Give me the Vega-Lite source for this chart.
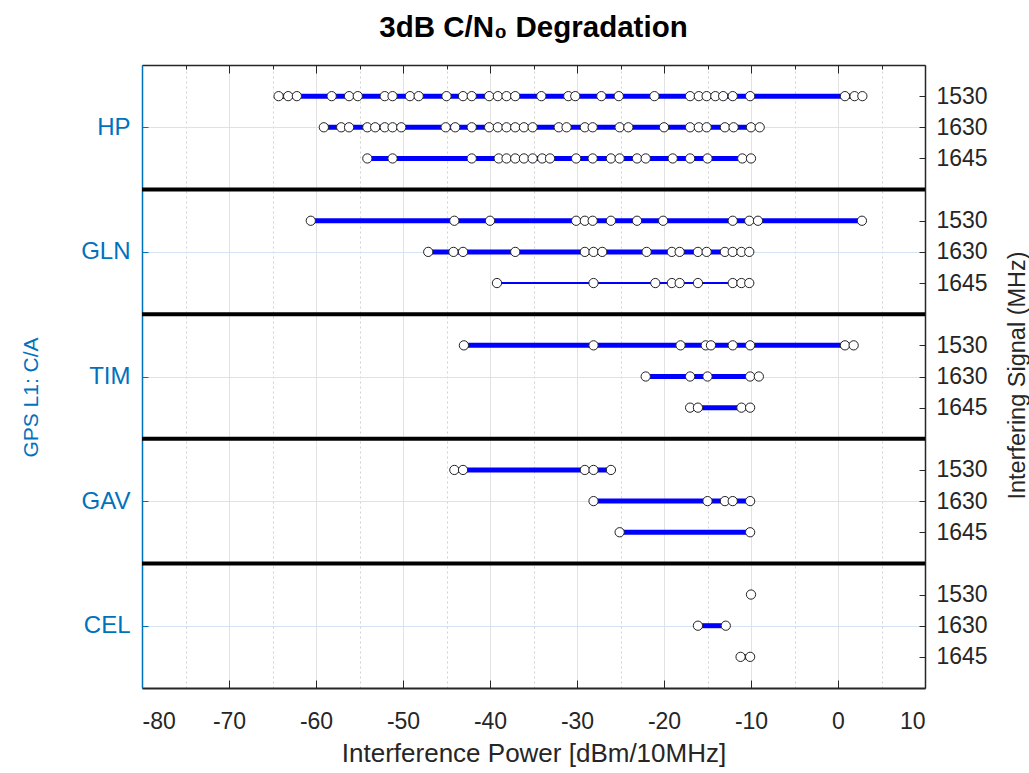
{
  "$schema": "https://vega.github.io/schema/vega-lite/v6.json",
  "width": 783,
  "height": 623,
  "autosize": "none",
  "padding": {"left": 142, "top": 65, "right": 104, "bottom": 85},
  "background": "white",
  "title": {"text": "3dB C/N₀ Degradation", "fontSize": 29.5, "fontWeight": "bold", "font": "Liberation Sans", "color": "#000000", "anchor": "middle", "offset": 21},
  "config": {
    "view": {"stroke": null},
    "font": "Liberation Sans",
    "axis": {"labelFont": "Liberation Sans", "titleFont": "Liberation Sans", "labelFontSize": 23, "titleFontSize": 21, "titleFontWeight": "normal", "labelColor": "#262626", "titleColor": "#262626", "domainColor": "#262626", "tickColor": "#262626", "domainWidth": 1.5}
  },
  "datasets": {
    "pts": [
      {"signal": "HP-1530", "power": -64.3}, {"signal": "HP-1530", "power": -63.2}, {"signal": "HP-1530", "power": -62.2}, {"signal": "HP-1530", "power": -58.2}, {"signal": "HP-1530", "power": -56.2}, {"signal": "HP-1530", "power": -55.2}, {"signal": "HP-1530", "power": -52.1}, {"signal": "HP-1530", "power": -51.2}, {"signal": "HP-1530", "power": -49.2}, {"signal": "HP-1530", "power": -48.2}, {"signal": "HP-1530", "power": -45.0}, {"signal": "HP-1530", "power": -43.1}, {"signal": "HP-1530", "power": -42.1}, {"signal": "HP-1530", "power": -40.1}, {"signal": "HP-1530", "power": -39.1}, {"signal": "HP-1530", "power": -38.1}, {"signal": "HP-1530", "power": -37.1}, {"signal": "HP-1530", "power": -34.1}, {"signal": "HP-1530", "power": -31.0}, {"signal": "HP-1530", "power": -30.2}, {"signal": "HP-1530", "power": -27.2}, {"signal": "HP-1530", "power": -25.2}, {"signal": "HP-1530", "power": -21.1}, {"signal": "HP-1530", "power": -17.0}, {"signal": "HP-1530", "power": -16.0}, {"signal": "HP-1530", "power": -15.1}, {"signal": "HP-1530", "power": -14.1}, {"signal": "HP-1530", "power": -13.2}, {"signal": "HP-1530", "power": -12.1}, {"signal": "HP-1530", "power": -10.1}, {"signal": "HP-1530", "power": 0.8}, {"signal": "HP-1530", "power": 1.9}, {"signal": "HP-1530", "power": 2.8},
      {"signal": "HP-1630", "power": -59.1}, {"signal": "HP-1630", "power": -57.1}, {"signal": "HP-1630", "power": -56.2}, {"signal": "HP-1630", "power": -54.1}, {"signal": "HP-1630", "power": -53.2}, {"signal": "HP-1630", "power": -52.1}, {"signal": "HP-1630", "power": -51.2}, {"signal": "HP-1630", "power": -50.2}, {"signal": "HP-1630", "power": -45.1}, {"signal": "HP-1630", "power": -44.0}, {"signal": "HP-1630", "power": -42.1}, {"signal": "HP-1630", "power": -40.1}, {"signal": "HP-1630", "power": -39.1}, {"signal": "HP-1630", "power": -38.1}, {"signal": "HP-1630", "power": -37.1}, {"signal": "HP-1630", "power": -36.1}, {"signal": "HP-1630", "power": -35.1}, {"signal": "HP-1630", "power": -32.1}, {"signal": "HP-1630", "power": -31.2}, {"signal": "HP-1630", "power": -29.1}, {"signal": "HP-1630", "power": -28.2}, {"signal": "HP-1630", "power": -25.1}, {"signal": "HP-1630", "power": -24.1}, {"signal": "HP-1630", "power": -20.0}, {"signal": "HP-1630", "power": -17.0}, {"signal": "HP-1630", "power": -16.0}, {"signal": "HP-1630", "power": -15.1}, {"signal": "HP-1630", "power": -13.0}, {"signal": "HP-1630", "power": -12.0}, {"signal": "HP-1630", "power": -10.0}, {"signal": "HP-1630", "power": -9.0},
      {"signal": "HP-1645", "power": -54.1}, {"signal": "HP-1645", "power": -51.2}, {"signal": "HP-1645", "power": -42.1}, {"signal": "HP-1645", "power": -39.0}, {"signal": "HP-1645", "power": -38.1}, {"signal": "HP-1645", "power": -37.1}, {"signal": "HP-1645", "power": -36.1}, {"signal": "HP-1645", "power": -35.1}, {"signal": "HP-1645", "power": -34.0}, {"signal": "HP-1645", "power": -33.1}, {"signal": "HP-1645", "power": -30.1}, {"signal": "HP-1645", "power": -28.2}, {"signal": "HP-1645", "power": -26.1}, {"signal": "HP-1645", "power": -25.1}, {"signal": "HP-1645", "power": -23.1}, {"signal": "HP-1645", "power": -22.1}, {"signal": "HP-1645", "power": -19.0}, {"signal": "HP-1645", "power": -17.0}, {"signal": "HP-1645", "power": -15.0}, {"signal": "HP-1645", "power": -11.0}, {"signal": "HP-1645", "power": -10.0},
      {"signal": "GLN-1530", "power": -60.6}, {"signal": "GLN-1530", "power": -44.1}, {"signal": "GLN-1530", "power": -40.0}, {"signal": "GLN-1530", "power": -30.1}, {"signal": "GLN-1530", "power": -29.1}, {"signal": "GLN-1530", "power": -28.2}, {"signal": "GLN-1530", "power": -26.1}, {"signal": "GLN-1530", "power": -23.1}, {"signal": "GLN-1530", "power": -20.1}, {"signal": "GLN-1530", "power": -12.1}, {"signal": "GLN-1530", "power": -10.2}, {"signal": "GLN-1530", "power": -9.2}, {"signal": "GLN-1530", "power": 2.75},
      {"signal": "GLN-1630", "power": -47.1}, {"signal": "GLN-1630", "power": -44.2}, {"signal": "GLN-1630", "power": -43.1}, {"signal": "GLN-1630", "power": -37.1}, {"signal": "GLN-1630", "power": -29.1}, {"signal": "GLN-1630", "power": -28.1}, {"signal": "GLN-1630", "power": -27.1}, {"signal": "GLN-1630", "power": -22.0}, {"signal": "GLN-1630", "power": -19.1}, {"signal": "GLN-1630", "power": -18.2}, {"signal": "GLN-1630", "power": -16.1}, {"signal": "GLN-1630", "power": -15.1}, {"signal": "GLN-1630", "power": -13.0}, {"signal": "GLN-1630", "power": -12.1}, {"signal": "GLN-1630", "power": -11.1}, {"signal": "GLN-1630", "power": -10.2},
      {"signal": "GLN-1645", "power": -39.2}, {"signal": "GLN-1645", "power": -28.1}, {"signal": "GLN-1645", "power": -21.0}, {"signal": "GLN-1645", "power": -19.1}, {"signal": "GLN-1645", "power": -18.2}, {"signal": "GLN-1645", "power": -16.1}, {"signal": "GLN-1645", "power": -12.1}, {"signal": "GLN-1645", "power": -11.1}, {"signal": "GLN-1645", "power": -10.2},
      {"signal": "TIM-1530", "power": -43.0}, {"signal": "TIM-1530", "power": -28.1}, {"signal": "TIM-1530", "power": -18.1}, {"signal": "TIM-1530", "power": -15.2}, {"signal": "TIM-1530", "power": -14.6}, {"signal": "TIM-1530", "power": -12.1}, {"signal": "TIM-1530", "power": -10.1}, {"signal": "TIM-1530", "power": 0.8}, {"signal": "TIM-1530", "power": 1.8},
      {"signal": "TIM-1630", "power": -22.1}, {"signal": "TIM-1630", "power": -17.0}, {"signal": "TIM-1630", "power": -15.0}, {"signal": "TIM-1630", "power": -10.1}, {"signal": "TIM-1630", "power": -9.1},
      {"signal": "TIM-1645", "power": -17.0}, {"signal": "TIM-1645", "power": -16.1}, {"signal": "TIM-1645", "power": -11.1}, {"signal": "TIM-1645", "power": -10.1},
      {"signal": "GAV-1530", "power": -44.1}, {"signal": "GAV-1530", "power": -43.1}, {"signal": "GAV-1530", "power": -29.1}, {"signal": "GAV-1530", "power": -28.1}, {"signal": "GAV-1530", "power": -26.1},
      {"signal": "GAV-1630", "power": -28.1}, {"signal": "GAV-1630", "power": -15.0}, {"signal": "GAV-1630", "power": -13.0}, {"signal": "GAV-1630", "power": -12.1}, {"signal": "GAV-1630", "power": -10.1},
      {"signal": "GAV-1645", "power": -25.1}, {"signal": "GAV-1645", "power": -10.1},
      {"signal": "CEL-1530", "power": -10.0},
      {"signal": "CEL-1630", "power": -16.1}, {"signal": "CEL-1630", "power": -12.9},
      {"signal": "CEL-1645", "power": -11.2}, {"signal": "CEL-1645", "power": -10.1}
    ],
    "seps": [{"signal": "s1"}, {"signal": "s2"}, {"signal": "s3"}, {"signal": "s4"}]
  },
  "data": {"name": "pts"},
  "resolve": {"axis": {"x": "independent", "y": "independent"}},
  "layer": [
    {
      "data": {"name": "seps"},
      "mark": {"type": "rule", "strokeWidth": 4, "color": "#000000"},
      "encoding": {
        "y": {"field": "signal", "type": "ordinal", "scale": {"type": "point", "padding": 1, "domain": ["HP-1530", "HP-1630", "HP-1645", "s1", "GLN-1530", "GLN-1630", "GLN-1645", "s2", "TIM-1530", "TIM-1630", "TIM-1645", "s3", "GAV-1530", "GAV-1630", "GAV-1645", "s4", "CEL-1530", "CEL-1630", "CEL-1645"]}, "axis": null}
      }
    },
    {
      "mark": {"type": "rule", "color": "#0000ff"},
      "encoding": {
        "y": {"field": "signal", "type": "ordinal", "scale": {"type": "point", "padding": 1, "domain": ["HP-1530", "HP-1630", "HP-1645", "s1", "GLN-1530", "GLN-1630", "GLN-1645", "s2", "TIM-1530", "TIM-1630", "TIM-1645", "s3", "GAV-1530", "GAV-1630", "GAV-1645", "s4", "CEL-1530", "CEL-1630", "CEL-1645"]},
          "axis": {"orient": "left", "values": ["HP-1630", "GLN-1630", "TIM-1630", "GAV-1630", "CEL-1630"], "labelExpr": "split(datum.value, '-')[0]", "title": "GPS L1: C/A", "domainColor": "#0072BD", "tickColor": "#0072BD", "labelColor": "#0072BD", "titleColor": "#0072BD", "tickSize": -6, "labelPadding": 18, "labelFontSize": 24, "grid": true, "gridColor": "#d4e4f3", "gridWidth": 1, "titleX": -105, "titleY": 332, "titleAngle": -90, "titleAlign": "center", "titleBaseline": "alphabetic", "titleFontSize": 21}},
        "x": {"aggregate": "min", "field": "power", "type": "quantitative", "scale": {"domain": [-80, 10], "nice": false},
          "axis": {"orient": "bottom", "values": [-80, -75, -70, -65, -60, -55, -50, -45, -40, -35, -30, -25, -20, -15, -10, -5, 0, 5, 10], "labelExpr": "datum.value % 10 === 0 ? '' + datum.value : ''", "title": "Interference Power [dBm/10MHz]", "grid": true,
            "gridColor": {"condition": {"test": "datum.value % 10 !== 0", "value": "#d0d0d0"}, "value": "#e2e2e2"},
            "gridDash": {"condition": {"test": "datum.value % 10 !== 0", "value": [2, 3]}, "value": []},
            "tickSize": {"condition": {"test": "datum.value % 10 !== 0", "value": 0}, "value": -8},
            "domainWidth": 2, "labelPadding": 30, "titleY": 73, "titleBaseline": "alphabetic", "titleFontSize": 26}},
        "x2": {"aggregate": "max", "field": "power"},
        "strokeWidth": {"condition": {"test": "datum.signal === 'GLN-1645'", "value": 2}, "value": 5}
      }
    },
    {
      "mark": {"type": "point", "shape": "circle", "filled": true, "fill": "#ffffff", "stroke": "#222222", "strokeWidth": 1, "size": 86, "opacity": 1},
      "encoding": {
        "y": {"field": "signal", "type": "ordinal", "scale": {"type": "point", "padding": 1, "domain": ["HP-1530", "HP-1630", "HP-1645", "s1", "GLN-1530", "GLN-1630", "GLN-1645", "s2", "TIM-1530", "TIM-1630", "TIM-1645", "s3", "GAV-1530", "GAV-1630", "GAV-1645", "s4", "CEL-1530", "CEL-1630", "CEL-1645"]},
          "axis": {"orient": "right", "values": ["HP-1530", "HP-1630", "HP-1645", "GLN-1530", "GLN-1630", "GLN-1645", "TIM-1530", "TIM-1630", "TIM-1645", "GAV-1530", "GAV-1630", "GAV-1645", "CEL-1530", "CEL-1630", "CEL-1645"], "labelExpr": "split(datum.value, '-')[1]", "title": "Interfering Signal (MHz)", "tickSize": -6, "labelPadding": 17, "grid": false, "titleAngle": -90, "titleX": 99, "titleY": 310, "titleAlign": "center", "titleBaseline": "alphabetic", "titleFontSize": 23.5}},
        "x": {"field": "power", "type": "quantitative", "scale": {"domain": [-80, 10], "nice": false},
          "axis": {"orient": "top", "values": [-80, -75, -70, -65, -60, -55, -50, -45, -40, -35, -30, -25, -20, -15, -10, -5, 0, 5, 10], "labels": false, "title": null, "grid": false,
            "tickSize": {"condition": {"test": "datum.value % 10 !== 0", "value": -4}, "value": -8}}}
      }
    }
  ]
}
